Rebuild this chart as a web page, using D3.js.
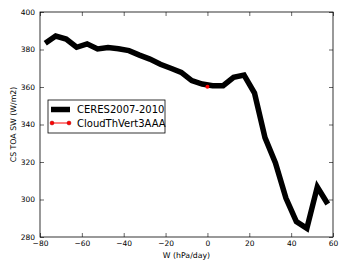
<!DOCTYPE html>
<html>
<head>
<meta charset="utf-8">
<script src="https://cdn.jsdelivr.net/npm/d3@7"></script>
<style>
  body { margin: 0; background: #fff; }
  text { font-family: "DejaVu Sans", sans-serif; }
</style>
</head>
<body>
<div id="chart"></div>
<script>
// CERES clear-sky TOA SW binned by omega
var omegaBins = [-77.5, -72.5, -67.5, -62.5, -57.5, -52.5, -47.5, -42.5, -37.5, -32.5,
                 -27.5, -22.5, -17.5, -12.5, -7.5, -2.5, 2.5, 7.5, 12.5, 17.5,
                 22.5, 27.5, 32.5, 37.5, 42.5, 47.5, 52.5, 57.5];
var ceresValues = [383.3, 387.2, 385.6, 381.2, 383, 380.3, 381, 380.4, 379.4, 377,
                   374.9, 372.1, 370, 367.8, 363.4, 361.6, 360.7, 360.7, 365.2, 366.4,
                   356.8, 333, 319.5, 300.8, 288.2, 284.6, 306.7, 297.6];
var modelOmega = [0];
var modelValues = [360.2];
var xTicks = [-80, -60, -40, -20, 0, 20, 40, 60];
var yTicks = [280, 300, 320, 340, 360, 380, 400];
var seriesNames = ["CERES2007-2010", "CloudThVert3AAA"];

var W = 339, H = 262;
var margin = {left: 40, right: 6, top: 12, bottom: 25};
var width = W - margin.left - margin.right,
    height = H - margin.top - margin.bottom;

var svg = d3.select("#chart").append("svg")
    .attr("width", W)
    .attr("height", H);

var g = svg.append("g")
    .attr("transform", "translate(" + margin.left + "," + margin.top + ")");

var x = d3.scaleLinear().domain([-80, 60]).range([0, width]);
var y = d3.scaleLinear().domain([280, 400]).range([height, 0]);

// clip so the thick line stays inside
g.append("clipPath").attr("id", "clip")
  .append("rect").attr("width", width).attr("height", height);

var line = d3.line()
    .x(function (d, i) { return x(omegaBins[i]); })
    .y(function (d) { return y(d); });

g.append("path")
    .attr("clip-path", "url(#clip)")
    .attr("fill", "none")
    .attr("stroke", "#000")
    .attr("stroke-width", 5.5)
    .attr("stroke-linejoin", "miter")
    .attr("d", line(ceresValues));

g.selectAll("circle.model")
    .data(modelValues)
    .enter().append("circle")
    .attr("class", "model")
    .attr("cx", function (d, i) { return x(modelOmega[i]); })
    .attr("cy", function (d) { return y(d); })
    .attr("r", 2)
    .attr("fill", "red");

// axes, ticks pointing inward on all four sides
var fs = "7.5px";
var xAxisCall = d3.axisBottom(x).tickValues(xTicks).tickSizeInner(-4).tickSizeOuter(0)
    .tickPadding(3).tickFormat(function (d) { return d < 0 ? "\u2212" + Math.abs(d) : d; });
var yAxisCall = d3.axisLeft(y).tickValues(yTicks).tickSizeInner(-4).tickSizeOuter(0)
    .tickPadding(5);

var xAxis = g.append("g").attr("transform", "translate(0," + height + ")").call(xAxisCall);
var yAxis = g.append("g").call(yAxisCall);
var xTop = g.append("g").call(d3.axisTop(x).tickValues(xTicks).tickSizeInner(-4).tickSizeOuter(0).tickFormat(""));
var yRight = g.append("g").attr("transform", "translate(" + width + ",0)")
    .call(d3.axisRight(y).tickValues(yTicks).tickSizeInner(-4).tickSizeOuter(0).tickFormat(""));

[xAxis, yAxis, xTop, yRight].forEach(function (a) {
    a.select(".domain").remove();
    a.selectAll("line").attr("stroke", "#000").attr("stroke-width", 0.6);
    a.selectAll("text").attr("font-size", fs).attr("fill", "#000")
      .style("font-family", "DejaVu Sans");
});
xAxis.selectAll("text").attr("dy", "0.8em");

g.append("rect")
    .attr("width", width).attr("height", height)
    .attr("fill", "none").attr("stroke", "#000").attr("stroke-width", 0.8);

// axis titles
svg.append("text")
    .attr("x", margin.left + width / 2)
    .attr("y", 258)
    .attr("text-anchor", "middle")
    .attr("font-size", "7.8px")
    .text("W (hPa/day)");

svg.append("text")
    .attr("transform", "rotate(-90)")
    .attr("x", -(margin.top + height / 2))
    .attr("y", 16)
    .attr("text-anchor", "middle")
    .attr("font-size", "7.8px")
    .text("CS TOA SW (W/m2)");

// legend
var legend = svg.append("g").attr("transform", "translate(48,100)");
legend.append("rect")
    .attr("width", 117).attr("height", 33)
    .attr("fill", "#fff").attr("stroke", "#000").attr("stroke-width", 0.8);

legend.append("line")
    .attr("x1", 3).attr("x2", 22).attr("y1", 9.5).attr("y2", 9.5)
    .attr("stroke", "#000").attr("stroke-width", 5.5);
legend.append("line")
    .attr("x1", 4).attr("x2", 21).attr("y1", 23).attr("y2", 23)
    .attr("stroke", "red").attr("stroke-width", 1);
[4, 21].forEach(function (cx) {
    legend.append("circle").attr("cx", cx).attr("cy", 23).attr("r", 2)
      .attr("fill", "red").attr("stroke", "#800").attr("stroke-width", 0.4);
});
legend.selectAll("text.lbl")
    .data(seriesNames)
    .enter().append("text")
    .attr("class", "lbl")
    .attr("x", 29)
    .attr("y", function (d, i) { return 13 + i * 13.5; })
    .attr("font-size", "10px")
    .text(function (d) { return d; });
</script>
</body>
</html>
